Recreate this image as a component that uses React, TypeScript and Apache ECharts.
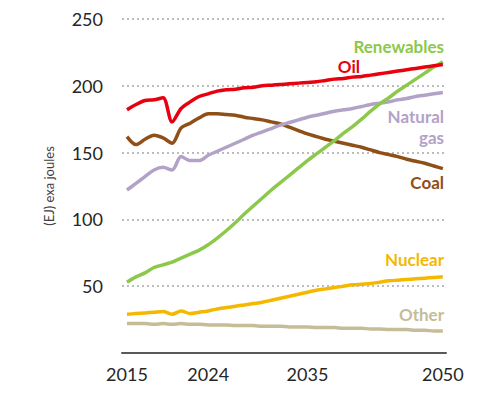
import React, { useEffect, useRef } from "react";
import * as echarts from "echarts";

const years: number[] = [];
for (let y = 2015; y <= 2050; y++) years.push(y);

const xTickLabels = [2015, 2024, 2035, 2050];

const oil = [182, 186, 189, 189.5, 191, 173, 183, 188, 192, 194, 196, 197, 197.5, 198.5, 199, 200, 200.5, 201, 201.5, 202, 202.5, 203, 204, 205, 205.5, 206.5, 207, 208, 209, 210, 211, 212, 213, 214, 215, 216];
const coal = [162, 156, 160, 163, 161, 157, 168.5, 172, 176, 179, 179, 178.5, 178, 176.5, 175.5, 174.5, 173, 171.5, 169, 166.5, 164, 162, 160, 158.5, 157, 155.5, 154, 152, 150, 148.5, 147, 145, 143.5, 142, 140, 138];
const gas = [122, 127, 132, 137, 139, 137, 147, 144, 144, 148, 151, 154, 157, 160, 163, 165.5, 168, 170.5, 172.5, 174.5, 176.5, 178, 179.5, 181, 182, 183, 184.5, 186, 187, 188, 189.5, 190.5, 192, 193, 194, 195];
const renewables = [53, 57, 60, 64, 66, 68, 71, 74, 77, 81, 86, 91.5, 97.5, 104, 110, 116, 122, 127.5, 133, 138.5, 144, 149, 154, 159, 164.5, 169.5, 175, 181, 186.5, 191, 196, 200.5, 205, 209.5, 214, 218];
const nuclear = [29, 29.5, 30, 30.5, 31, 29, 31.5, 29.5, 30.5, 31.5, 33, 34, 35, 36, 37, 38, 39.5, 41, 42.5, 44, 45.5, 47, 48, 49, 50, 51, 51.5, 52, 53, 54, 54.5, 55, 55.5, 56, 56.5, 57];
const other = [22, 22, 22, 21.5, 22, 21.5, 22, 21.5, 21.5, 21, 21, 21, 20.5, 20.5, 20.5, 20, 20, 20, 19.5, 19.5, 19.5, 19, 19, 19, 18.5, 18.5, 18.5, 18, 18, 17.5, 17.5, 17.5, 17, 17, 16.5, 16.5];

const seriesDefs = [
  { name: "Other", data: other, color: "#c4bd97" },
  { name: "Nuclear", data: nuclear, color: "#f5b800" },
  { name: "Coal", data: coal, color: "#8f4f17" },
  { name: "Natural gas", data: gas, color: "#b3a2c7" },
  { name: "Renewables", data: renewables, color: "#8cc84b" },
  { name: "Oil", data: oil, color: "#e8000e" },
];

const FONT = "Lato, 'Open Sans', sans-serif";

export default function App() {
  const ref = useRef<HTMLDivElement>(null);
  useEffect(() => {
    if (!ref.current) return;
    const chart = echarts.init(ref.current, undefined, { renderer: "svg" });
    const label = (text: string, x: number, y: number, color: string) => ({
      type: "text",
      right: 500 - x,
      top: y - 10,
      style: { text, fill: color, font: `bold 17px ${FONT}`, textAlign: "right" },
    });
    chart.setOption({
      animation: false,
      backgroundColor: "#ffffff",
      grid: { left: 122, right: 54, top: 19, bottom: 40 },
      xAxis: {
        type: "value",
        min: 2014.45,
        max: 2050.35,
        axisLine: { show: true, lineStyle: { color: "#595959", width: 2 } },
        axisTick: { show: false },
        splitLine: { show: false },
        axisLabel: {
          customValues: xTickLabels,
          margin: 12,
          color: "#262626",
          fontSize: 18,
          fontFamily: FONT,
          formatter: (v: number) => String(v),
        },
      },
      yAxis: {
        type: "value",
        min: 0,
        max: 250,
        interval: 50,
        name: "(EJ) exa joules",
        nameLocation: "middle",
        nameRotate: 90,
        nameGap: 67,
        nameTextStyle: { color: "#404040", fontSize: 13, fontFamily: FONT },
        axisLine: { show: false },
        axisTick: { show: false },
        axisLabel: {
          margin: 19,
          color: "#262626",
          fontSize: 18,
          fontFamily: FONT,
          formatter: (v: number) => (v === 0 ? "" : String(v)),
        },
        splitLine: {
          show: true,
          showMinLine: false,
          lineStyle: { color: "#a6a6a6", type: [2, 3], width: 1.5 },
        },
      },
      series: seriesDefs.map((s) => ({
        type: "line",
        name: s.name,
        data: years.map((y, i) => [y, s.data[i]]),
        showSymbol: false,
        smooth: 0.3,
        lineStyle: { color: s.color, width: 3.5 },
        itemStyle: { color: s.color },
      })),
      graphic: [
        label("Renewables", 444, 48, "#8cc84b"),
        label("Oil", 360, 68, "#e8000e"),
        label("Natural", 444, 118, "#b3a2c7"),
        label("gas", 444, 139, "#b3a2c7"),
        label("Coal", 444, 184, "#8f4f17"),
        label("Nuclear", 444, 261, "#f5b800"),
        label("Other", 444, 316, "#c4bd97"),
      ],
    });
    return () => chart.dispose();
  }, []);
  return <div ref={ref} style={{ width: 500, height: 393, margin: -8 }} />;
}
